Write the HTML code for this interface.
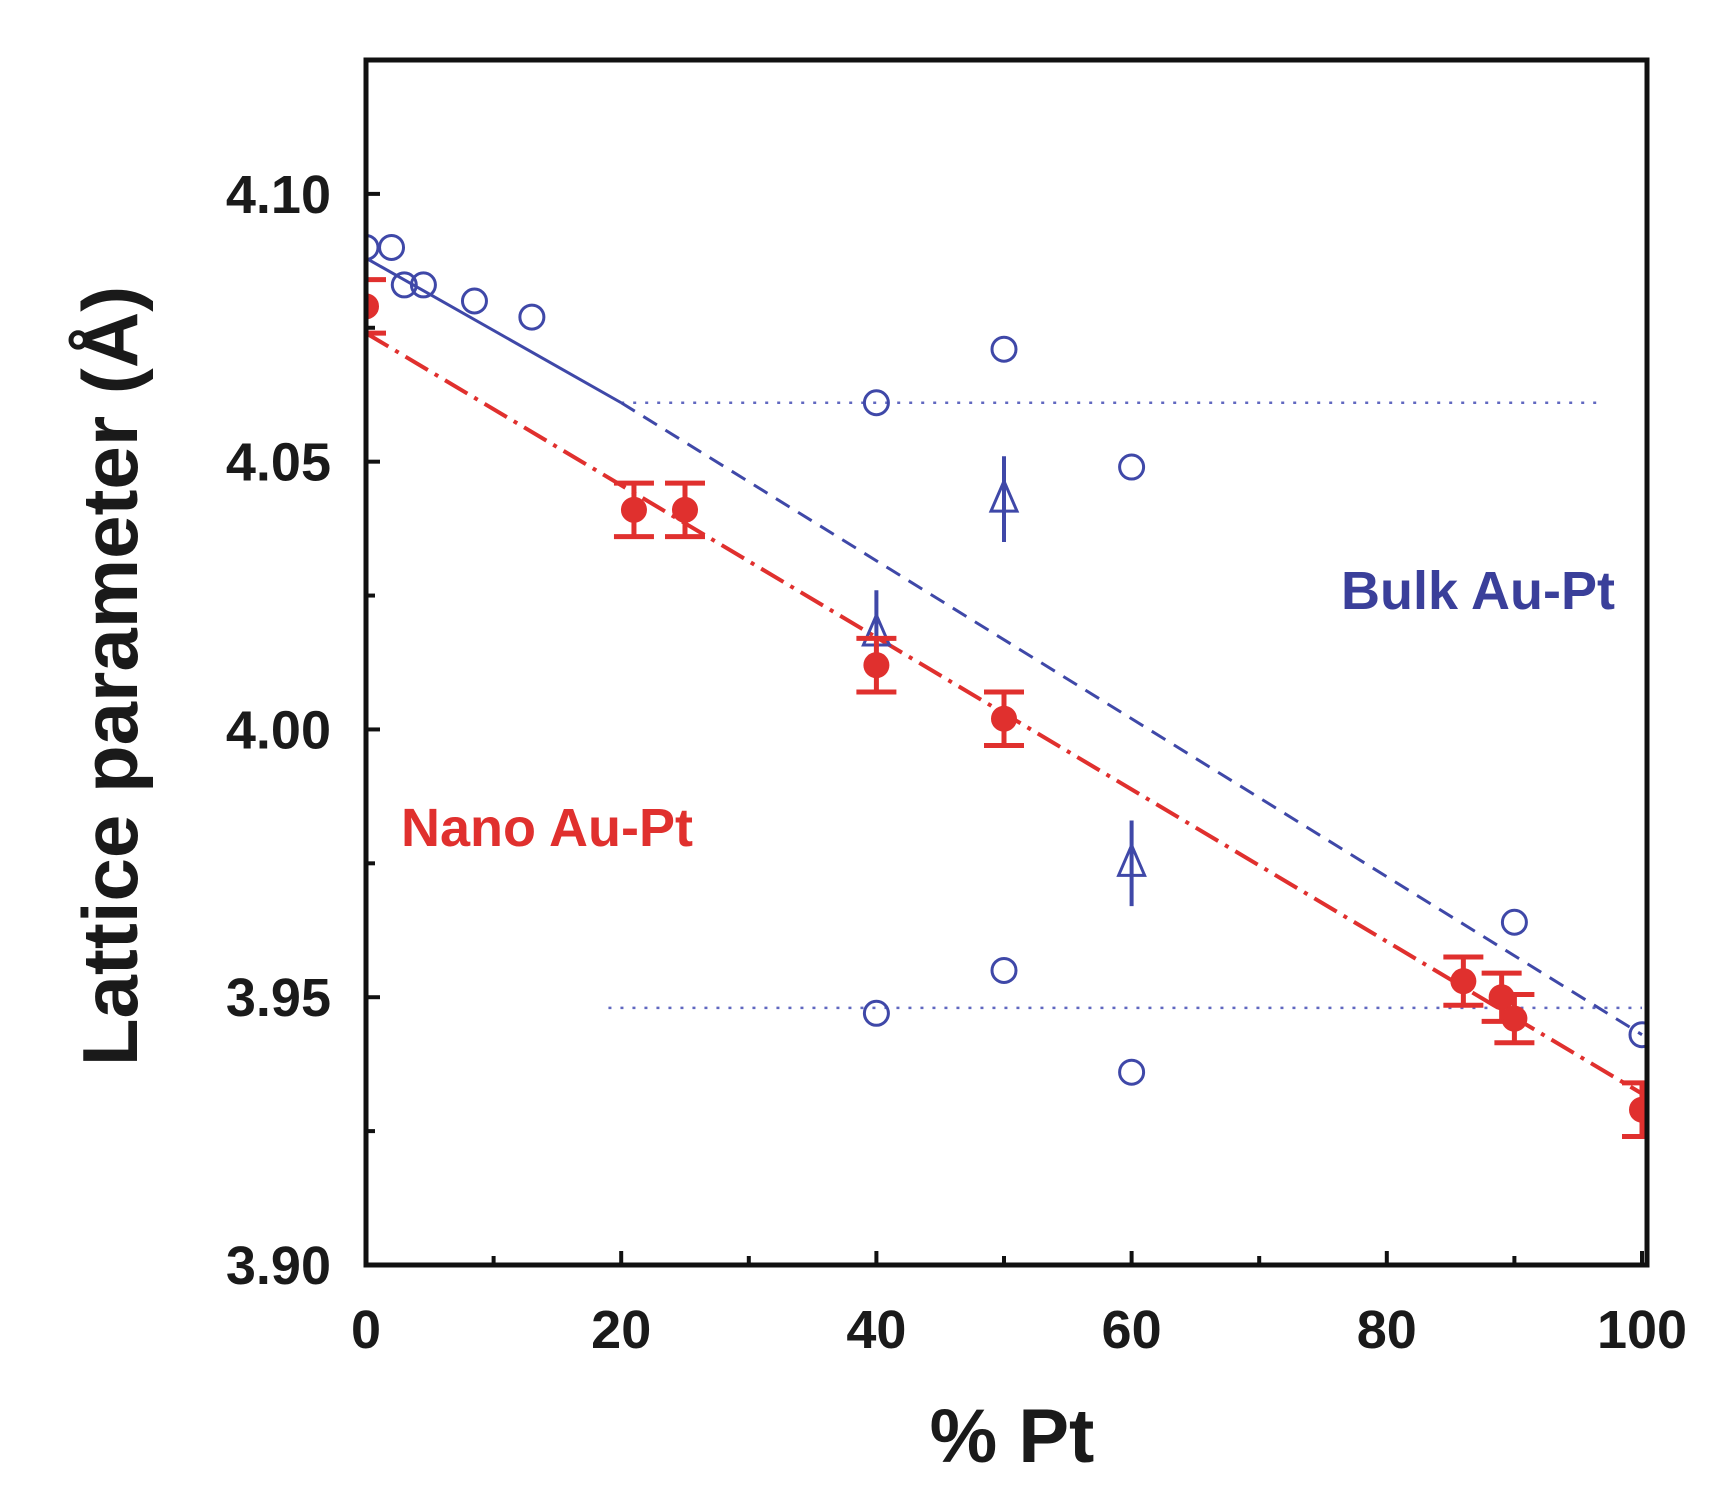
<!DOCTYPE html>
<html><head><meta charset="utf-8"><style>
html,body{margin:0;padding:0;background:#fff}
svg{display:block}
text{font-family:"Liberation Sans",Arial,sans-serif;font-weight:bold}
</style></head><body>
<svg id="chart" width="1716" height="1491" viewBox="0 0 1716 1491" xmlns="http://www.w3.org/2000/svg"></svg>
<script>
const xTicks=[0,20,40,60,80,100];
const yTicks=[3.90,3.95,4.00,4.05,4.10];
const bulkX=[0,2,3,4.5,8.5,13,40,50,60,40,50,60,90,100];
const bulkY=[4.090,4.090,4.083,4.083,4.080,4.077,4.061,4.071,4.049,3.947,3.955,3.936,3.964,3.943];
const triX=[40,50,60];
const triY=[4.018,4.043,3.975];
const triErr=[0.008,0.008,0.008];
const nanoX=[0,21,25,40,50,86,89,90,100];
const nanoY=[4.079,4.041,4.041,4.012,4.002,3.953,3.950,3.946,3.929];
const nanoErr=[0.005,0.005,0.005,0.005,0.005,0.0045,0.0045,0.0045,0.005];
const bulkFit=[[0,4.088],[20,4.061],[100,3.943]];
const nanoFit=[[0,4.074],[100,3.932]];
const dotLines=[[20,97,4.061],[19,100,3.948]];

const L=366,R=1642,T=60,B=1265;
const X=v=>L+(R-L)*v/100;
const Y=v=>B-(v-3.90)/0.225*(B-T);
const svg=document.getElementById('chart');
const NS='http://www.w3.org/2000/svg';
function mk(tag,attrs,name,parent){const e=document.createElementNS(NS,tag);for(const k in attrs)e.setAttribute(k,attrs[k]);


(parent||svg).appendChild(e);return e;}
const blue='#3f48a8',red='#e0302e';
const defs=mk('defs',{},'defs');
const cp=mk('clipPath',{id:'clip'},'clip',defs);
mk('rect',{x:L,y:T,width:R+5-L+2,height:B-T},'clip-rect',cp);
const plot=mk('g',{'clip-path':'url(#clip)'},'plot-area');
for(const d of dotLines){mk('line',{x1:X(d[0]),x2:X(d[1]),y1:Y(d[2]),y2:Y(d[2]),stroke:'#6068c0','stroke-width':2.5,'stroke-dasharray':'3 9'},'dotted-reference-line',plot);}
mk('line',{x1:X(bulkFit[0][0]),y1:Y(bulkFit[0][1]),x2:X(bulkFit[1][0]),y2:Y(bulkFit[1][1]),stroke:blue,'stroke-width':3},'bulk-fit-solid',plot);
mk('line',{x1:X(bulkFit[1][0]),y1:Y(bulkFit[1][1]),x2:X(bulkFit[2][0]),y2:Y(bulkFit[2][1]),stroke:blue,'stroke-width':3,'stroke-dasharray':'16 10'},'bulk-fit-dashed',plot);
mk('line',{x1:X(nanoFit[0][0]),y1:Y(nanoFit[0][1]),x2:X(nanoFit[1][0]),y2:Y(nanoFit[1][1]),stroke:red,'stroke-width':4,'stroke-dasharray':'26 8 4 8'},'nano-fit-dashdot',plot);
bulkX.forEach((x,i)=>{mk('circle',{cx:X(x),cy:Y(bulkY[i]),r:12,fill:'none',stroke:blue,'stroke-width':3},'bulk-point',plot);});
triX.forEach((x,i)=>{const cx=X(x),cy=Y(triY[i]);
mk('line',{x1:cx,x2:cx,y1:Y(triY[i]+triErr[i]),y2:Y(triY[i]-triErr[i]),stroke:blue,'stroke-width':4},'triangle-error-bar',plot);
mk('polygon',{points:`${cx},${cy-18} ${cx-13},${cy+12} ${cx+13},${cy+12}`,fill:'none',stroke:blue,'stroke-width':3},'bulk-triangle',plot);});
nanoX.forEach((x,i)=>{const cx=X(x),cy=Y(nanoY[i]),y1=Y(nanoY[i]+nanoErr[i]),y2=Y(nanoY[i]-nanoErr[i]);
mk('line',{x1:cx,x2:cx,y1:y1,y2:y2,stroke:red,'stroke-width':5},'nano-error-bar',plot);
mk('line',{x1:cx-20,x2:cx+20,y1:y1,y2:y1,stroke:red,'stroke-width':5},'nano-error-cap',plot);
mk('line',{x1:cx-20,x2:cx+20,y1:y2,y2:y2,stroke:red,'stroke-width':5},'nano-error-cap',plot);
mk('circle',{cx:cx,cy:cy,r:12,fill:red,stroke:red,'stroke-width':2},'nano-point',plot);});
mk('rect',{x:L,y:T,width:R+5-L,height:B-T,fill:'none',stroke:'#111','stroke-width':5},'plot-frame');
for(let v=0;v<=100;v+=10){const major=v%20===0;mk('line',{x1:X(v),x2:X(v),y1:B,y2:B-(major?14:9),stroke:'#111','stroke-width':4},'x-tick');}
xTicks.forEach(v=>{const t=mk('text',{x:X(v),y:1348,'text-anchor':'middle','font-size':54,fill:'#1a1a1a'},'x-tick-label');t.textContent=v;});
for(let v=3.90;v<=4.1251;v+=0.025){const major=Math.round(v*1000)%50===0;mk('line',{x1:L,x2:L+(major?14:9),y1:Y(v),y2:Y(v),stroke:'#111','stroke-width':4},'y-tick');}
yTicks.forEach(v=>{const t=mk('text',{x:331,y:Y(v)+19,'text-anchor':'end','font-size':54,fill:'#1a1a1a'},'y-tick-label');t.textContent=v.toFixed(2);});
let t=mk('text',{x:1012,y:1462,'text-anchor':'middle','font-size':76,fill:'#1a1a1a'},'x-axis-title');t.textContent='% Pt';
t=mk('text',{x:0,y:0,transform:'translate(137,676) rotate(-90)','text-anchor':'middle','font-size':78,fill:'#1a1a1a'},'y-axis-title');t.textContent='Lattice parameter (Å)';
t=mk('text',{x:1478,y:609,'text-anchor':'middle','font-size':54,fill:'#3a3f9a'},'bulk-label');t.textContent='Bulk Au-Pt';
t=mk('text',{x:547,y:846,'text-anchor':'middle','font-size':54,fill:red},'nano-label');t.textContent='Nano Au-Pt';
</script>
</body></html>
